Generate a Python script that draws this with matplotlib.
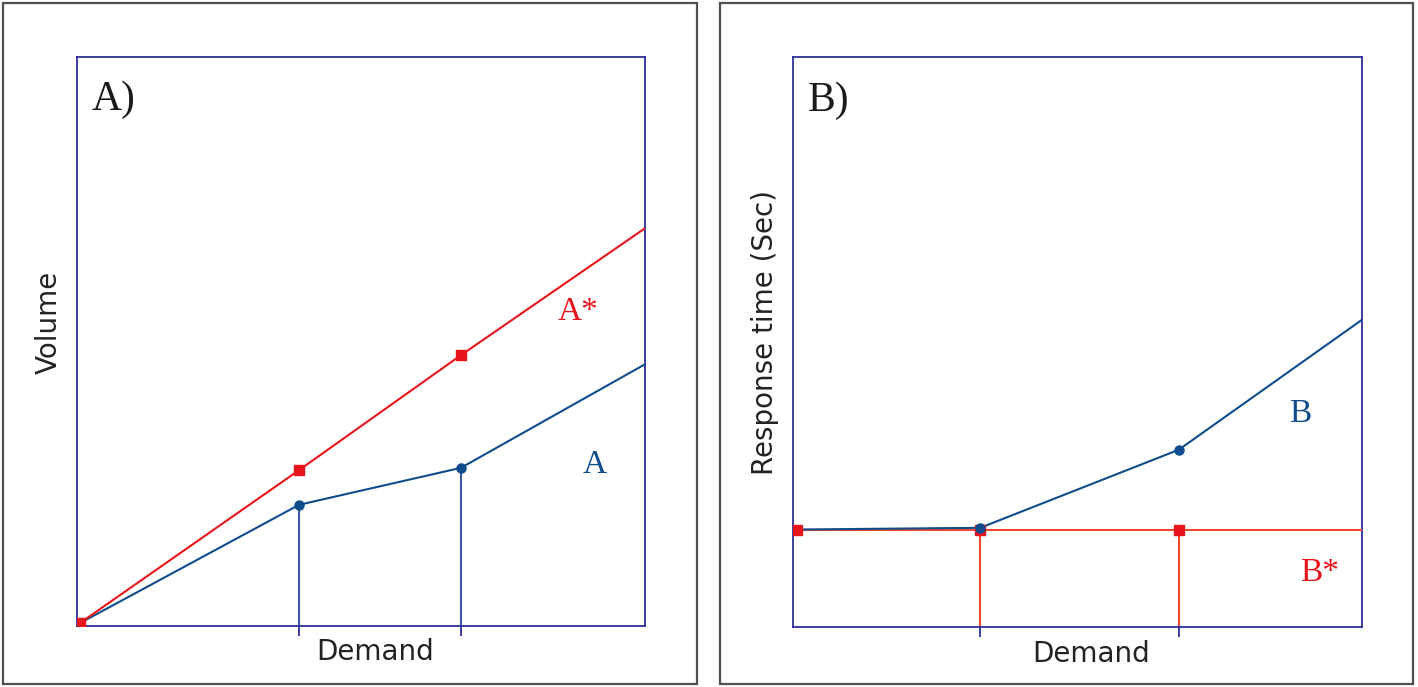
import matplotlib
matplotlib.use('Agg')
import matplotlib.pyplot as plt
from matplotlib.patches import Rectangle

# panel A: volume vs demand
demand_a = [0.5, 39.1, 67.6, 100]
a_star = [0.5, 27.4, 47.6, 69.9]
a_vals = [0.5, 21.3, 27.8, 46.0]

# panel B: response time vs demand
demand_b = [0.7, 32.9, 67.8, 100]
b_star = [17.0, 17.0, 17.0, 17.0]
b_vals = [17.1, 17.4, 31.1, 53.9]

RED = '#e8141b'
BLUE = '#0f4c8c'
NAVY = '#2e2e96'
VLINE_A = '#3e55a6'
VLINE_B = '#ec4a2e'
TXT = '#222222'

plt.rcParams['font.family'] = ['DejaVu Sans']
W, H = 1418, 687
fig = plt.figure(figsize=(W / 100, H / 100), dpi=100)

# outer frames
for x0, x1 in [(3, 697), (720, 1413)]:
    fig.patches.append(Rectangle((x0 / W, 3 / H), (x1 - x0) / W, 681 / H,
                                 transform=fig.transFigure, fill=False,
                                 edgecolor='#505050', linewidth=1.6))

ax1 = fig.add_axes([77 / W, 61 / H, 568 / W, 569 / H])
ax2 = fig.add_axes([793 / W, 60 / H, 569 / W, 570 / H])

for ax in (ax1, ax2):
    ax.set_xlim(0, 100)
    ax.set_ylim(0, 100)
    for s in ax.spines.values():
        s.set_color(NAVY)
        s.set_linewidth(1.3)
    ax.set_yticks([])
    ax.tick_params(axis='x', length=7, width=1.3, color=NAVY,
                   labelbottom=False, direction='out')

# A
ax1.set_xticks(demand_a[1:3])
for x, y in zip(demand_a[1:3], a_vals[1:3]):
    ax1.plot([x, x], [0, y], color=VLINE_A, lw=1.5, zorder=2)
ax1.plot(demand_a, a_vals, color=BLUE, lw=1.5, zorder=3)
ax1.plot(demand_a[1:3], a_vals[1:3], 'o', color=BLUE, ms=6.5, zorder=4)
ax1.plot(demand_a, a_star, color=RED, lw=1.5, zorder=3)
ax1.plot(demand_a[:3], a_star[:3], 's', color=RED, ms=6.5, zorder=5)
ax1.text(2.6, 92.4, 'A)', fontsize=30, family='Liberation Serif',
         color='#1a1a1a', va='center', ha='left')
ax1.text(88.2, 55.2, 'A*', fontsize=24, family='Liberation Serif',
         color=RED, va='center', ha='center')
ax1.text(91.2, 28.3, 'A', fontsize=24, family='Liberation Serif',
         color=BLUE, va='center', ha='center')
ax1.set_xlabel('Demand', fontsize=20, color=TXT, labelpad=2)
ax1.set_ylabel('Volume', fontsize=20, color=TXT, labelpad=10)
ax1.xaxis.label.set_x(0.5246)
ax1.yaxis.label.set_y(0.534)

# B
ax2.set_xticks(demand_b[1:3])
for x, y in zip(demand_b[1:3], b_star[1:3]):
    ax2.plot([x, x], [0, y], color=VLINE_B, lw=1.5, zorder=2)
ax2.plot(demand_b, b_star, color=VLINE_B, lw=1.5, zorder=3)
ax2.plot(demand_b[:3], b_star[:3], 's', color=RED, ms=6.5, zorder=4)
ax2.plot(demand_b, b_vals, color=BLUE, lw=1.5, zorder=3)
ax2.plot(demand_b[1:3], b_vals[1:3], 'o', color=BLUE, ms=6.5, zorder=5)
ax2.text(2.6, 92.4, 'B)', fontsize=30, family='Liberation Serif',
         color='#1a1a1a', va='center', ha='left')
ax2.text(89.1, 37.5, 'B', fontsize=24, family='Liberation Serif',
         color=BLUE, va='center', ha='center')
ax2.text(92.6, 9.6, 'B*', fontsize=24, family='Liberation Serif',
         color=RED, va='center', ha='center')
ax2.set_xlabel('Demand', fontsize=20, color=TXT, labelpad=2)
ax2.set_ylabel('Response time (Sec)', fontsize=20, color=TXT, labelpad=10)
ax2.xaxis.label.set_x(0.5237)
ax2.yaxis.label.set_y(0.5175)

fig.savefig('out.png', dpi=100)
